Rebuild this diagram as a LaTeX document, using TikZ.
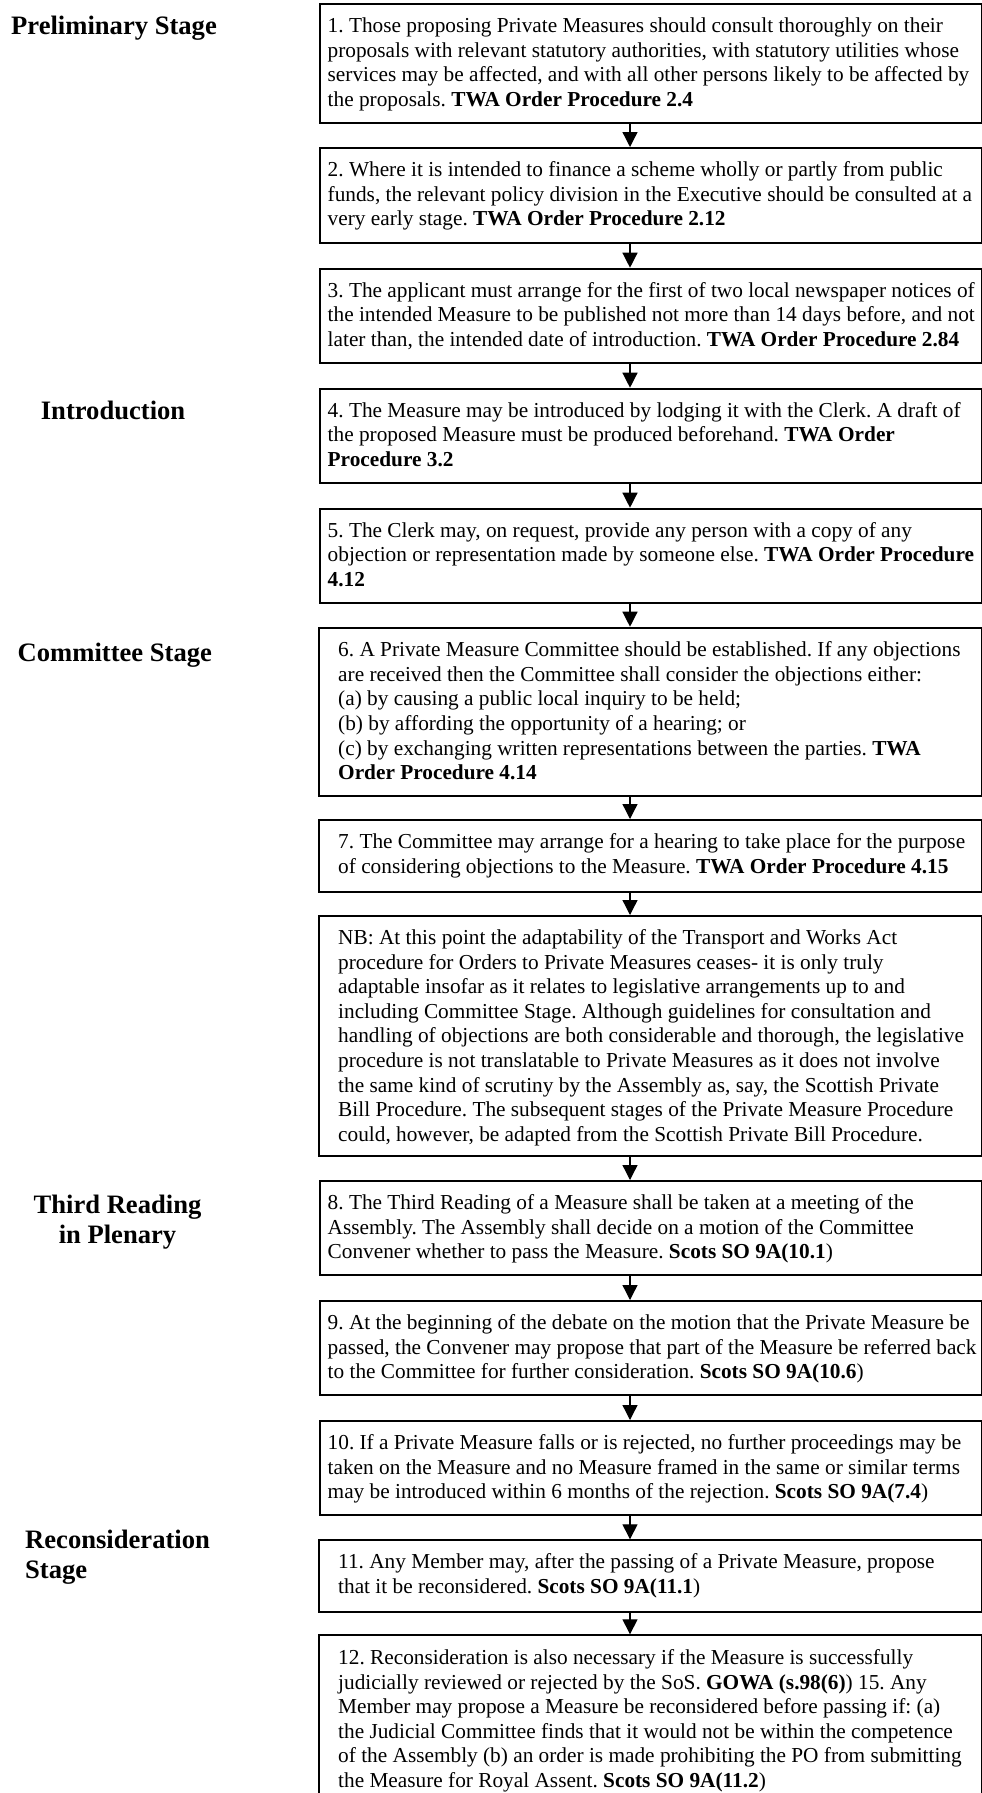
\documentclass[tikz,border=0pt]{standalone}
\usepackage{fontspec}
\setmainfont{Liberation Serif}
\usetikzlibrary{arrows.meta}
\frenchspacing
\newcommand{\bodyfnt}{\fontsize{21.3pt}{24.6pt}\selectfont}
\newcommand{\lblfnt}{\fontsize{26.6pt}{30.7pt}\selectfont\bfseries}
\newcommand{\btext}[1]{\parbox[t]{700pt}{\raggedright\frenchspacing\bodyfnt #1}}
\newcommand{\ltext}[1]{\parbox[t]{300pt}{\raggedright\frenchspacing\lblfnt #1}}
\begin{document}
\begin{tikzpicture}[x=1pt,y=-1pt,
  boxA/.style={draw, line width=2pt, inner sep=0pt, anchor=north west, minimum width=662pt},
  boxB/.style={draw, line width=2pt, inner sep=0pt, anchor=north west, minimum width=663pt},
  txt/.style={anchor=base west, inner sep=0pt},
  lbl/.style={anchor=base west, inner sep=0pt},
  arr/.style={line width=1.3pt, -{Triangle[width=15pt,length=15pt]}}]
\useasboundingbox (0,0) rectangle (982,1793);
\coordinate (ax) at (630,0);

% stage labels
\node[lbl] (l1) at (11,34.3) {\ltext{Preliminary Stage}};
\node[lbl] (l2) at (40.7,419.3) {\ltext{Introduction}};
\node[lbl] (l3) at (17.5,661) {\ltext{Committee Stage}};
\node[lbl] (l4) at (33.3,1213) {\parbox[t]{168pt}{\centering\lblfnt Third Reading\\in Plenary}};
\node[lbl] (l5) at (25,1548) {\ltext{Reconsideration\\Stage}};

% boxes
\node[boxA, minimum height=118.4pt] (b1) at (319,3.3) {};
\node[boxA, minimum height=94.7pt] (b2) at (319,147) {};
\node[boxA, minimum height=94pt] (b3) at (319,267.7) {};
\node[boxA, minimum height=94pt] (b4) at (319,387.7) {};
\node[boxA, minimum height=94.3pt] (b5) at (319,507.7) {};
\node[boxB, minimum height=168.3pt] (b6) at (318,626.7) {};
\node[boxB, minimum height=72pt] (b7) at (318,819) {};
\node[boxB, minimum height=240pt] (nb) at (318,915) {};
\node[boxA, minimum height=94pt] (b8) at (319,1180) {};
\node[boxA, minimum height=94pt] (b9) at (319,1300) {};
\node[boxA, minimum height=94.3pt] (b10) at (319,1420) {};
\node[boxB, minimum height=71.7pt] (b11) at (318,1539.3) {};
\node[boxB, minimum height=190pt] (b12) at (318,1634.3) {};

% texts
\node[txt] (t1) at (327.5,32.8) {\btext{1. Those proposing Private Measures should consult thoroughly on their\\
proposals with relevant statutory authorities, with statutory utilities whose\\
services may be affected, and with all other persons likely to be affected by\\
the proposals. \textbf{TWA Order Procedure 2.4}}};
\node[txt] (t2) at (327.5,176.5) {\btext{2. Where it is intended to finance a scheme wholly or partly from public\\
funds, the relevant policy division in the Executive should be consulted at a\\
very early stage. \textbf{TWA Order Procedure 2.12}}};
\node[txt] (t3) at (327.5,297.2) {\btext{3. The applicant must arrange for the first of two local newspaper notices of\\
the intended Measure to be published not more than 14 days before, and not\\
later than, the intended date of introduction. \textbf{TWA Order Procedure 2.84}}};
\node[txt] (t4) at (327.5,417.2) {\btext{4. The Measure may be introduced by lodging it with the Clerk. A draft of\\
the proposed Measure must be produced beforehand. \textbf{TWA Order}\\
\textbf{Procedure 3.2}}};
\node[txt] (t5) at (327.5,537.2) {\btext{5. The Clerk may, on request, provide any person with a copy of any\\
objection or representation made by someone else. \textbf{TWA Order Procedure}\\
\textbf{4.12}}};
\node[txt] (t6) at (338,656.7) {\btext{6. A Private Measure Committee should be established. If any objections\\
are received then the Committee shall consider the objections either:\\
(a) by causing a public local inquiry to be held;\\
(b) by affording the opportunity of a hearing; or\\
(c) by exchanging written representations between the parties. \textbf{TWA}\\
\textbf{Order Procedure 4.14}}};
\node[txt] (t7) at (338,848.5) {\btext{7. The Committee may arrange for a hearing to take place for the purpose\\
of considering objections to the Measure. \textbf{TWA Order Procedure 4.15}}};
\node[txt] (tnb) at (338,944.5) {\btext{NB: At this point the adaptability of the Transport and Works Act\\
procedure for Orders to Private Measures ceases- it is only truly\\
adaptable insofar as it relates to legislative arrangements up to and\\
including Committee Stage. Although guidelines for consultation and\\
handling of objections are both considerable and thorough, the legislative\\
procedure is not translatable to Private Measures as it does not involve\\
the same kind of scrutiny by the Assembly as, say, the Scottish Private\\
Bill Procedure. The subsequent stages of the Private Measure Procedure\\
could, however, be adapted from the Scottish Private Bill Procedure.}};
\node[txt] (t8) at (327.5,1209.5) {\btext{8. The Third Reading of a Measure shall be taken at a meeting of the\\
Assembly. The Assembly shall decide on a motion of the Committee\\
Convener whether to pass the Measure. \textbf{Scots SO 9A(10.1}) }};
\node[txt] (t9) at (327.5,1329.5) {\btext{9. At the beginning of the debate on the motion that the Private Measure be\\
passed, the Convener may propose that part of the Measure be referred back\\
to the Committee for further consideration. \textbf{Scots SO 9A(10.6})}};
\node[txt] (t10) at (327.5,1449.5) {\btext{10. If a Private Measure falls or is rejected, no further proceedings may be\\
taken on the Measure and no Measure framed in the same or similar terms\\
may be introduced within 6 months of the rejection. \textbf{Scots SO 9A(7.4})}};
\node[txt] (t11) at (338,1568.8) {\btext{11. Any Member may, after the passing of a Private Measure, propose\\
that it be reconsidered. \textbf{Scots SO 9A(11.1})}};
\node[txt] (t12) at (338,1664.5) {\btext{12. Reconsideration is also necessary if the Measure is successfully\\
judicially reviewed or rejected by the SoS. \textbf{GOWA (s.98(6)}) 15. Any\\
Member may propose a Measure be reconsidered before passing if: (a)\\
the Judicial Committee finds that it would not be within the competence\\
of the Assembly (b) an order is made prohibiting the PO from submitting\\
the Measure for Royal Assent. \textbf{Scots SO 9A(11.2})}};

% connectors
\draw[arr] (b1.south -| ax) -- (b2.north -| ax);
\draw[arr] (b2.south -| ax) -- (b3.north -| ax);
\draw[arr] (b3.south -| ax) -- (b4.north -| ax);
\draw[arr] (b4.south -| ax) -- (b5.north -| ax);
\draw[arr] (b5.south -| ax) -- (b6.north -| ax);
\draw[arr] (b6.south -| ax) -- (b7.north -| ax);
\draw[arr] (b7.south -| ax) -- (nb.north -| ax);
\draw[arr] (nb.south -| ax) -- (b8.north -| ax);
\draw[arr] (b8.south -| ax) -- (b9.north -| ax);
\draw[arr] (b9.south -| ax) -- (b10.north -| ax);
\draw[arr] (b10.south -| ax) -- (b11.north -| ax);
\draw[arr] (b11.south -| ax) -- (b12.north -| ax);
\end{tikzpicture}
\end{document}
